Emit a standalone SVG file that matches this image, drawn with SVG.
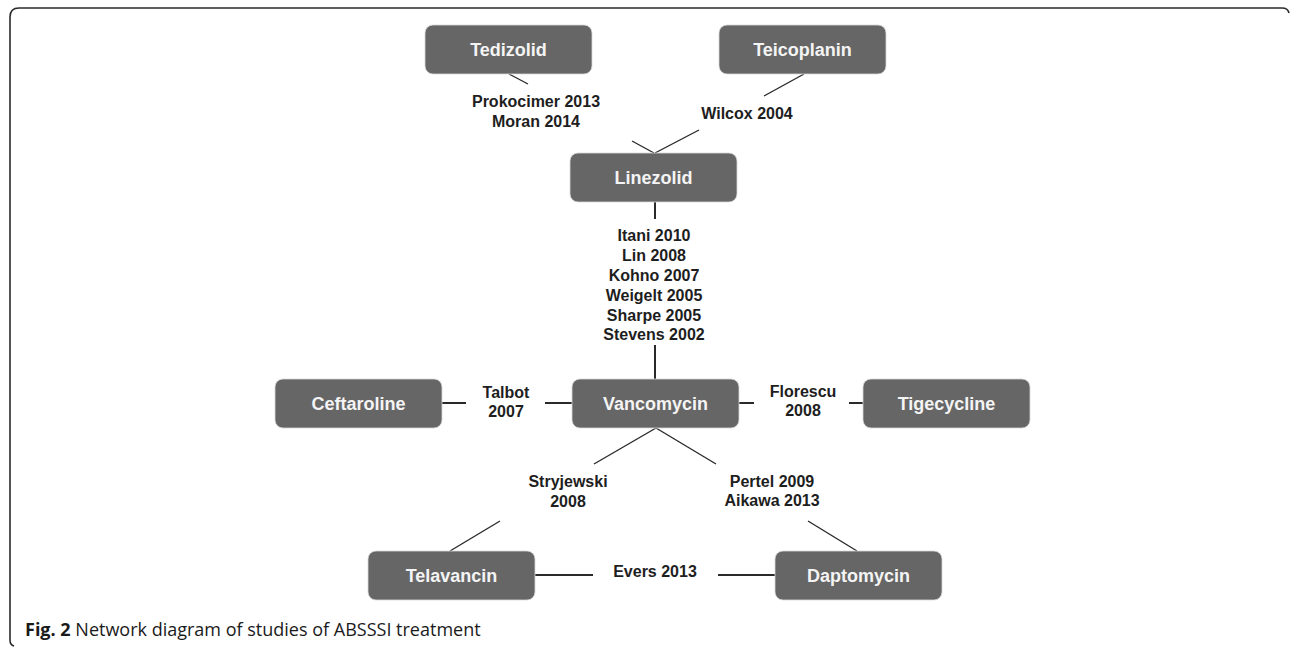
<svg xmlns="http://www.w3.org/2000/svg" width="1292" height="647" viewBox="0 0 1292 647">
<style>
.node rect{fill:#666666;stroke:#d9d9d9;stroke-width:0.8}
.node text{font-family:"Liberation Sans",Arial,sans-serif;font-weight:bold;font-size:18px;fill:#f4f4f4;text-anchor:middle}
.lbl{font-family:"Liberation Sans",Arial,sans-serif;font-weight:bold;font-size:16px;fill:#1e1e1e;text-anchor:middle}
.c line{stroke:#2a2a2a;stroke-width:1.4;fill:none}
.c line.h{stroke-width:2}
.cap{font-family:"Open Sans","Noto Sans",sans-serif;font-size:18px;fill:#1a1a1a}
</style>
<rect width="1292" height="647" fill="#ffffff"/>
<path d="M14 646 Q10 645 10 640 L10 17 Q10 8 19 8 L1282 8 Q1288 8 1289 13" fill="none" stroke="#2b2b2b" stroke-width="1.6"/>
<g id="connectors" class="c">
<line x1="509" y1="74" x2="528" y2="84"/>
<line x1="632" y1="141" x2="654" y2="153"/>
<line x1="804" y1="74" x2="764" y2="96"/>
<line x1="699" y1="130" x2="655" y2="153"/>
<line class="h" x1="655" y1="201" x2="655" y2="219"/>
<line class="h" x1="655" y1="345" x2="655" y2="379"/>
<line class="h" x1="441" y1="403" x2="466" y2="403"/>
<line class="h" x1="545" y1="403" x2="572" y2="403"/>
<line class="h" x1="739" y1="403" x2="754" y2="403"/>
<line class="h" x1="849" y1="403" x2="863" y2="403"/>
<line x1="656" y1="428" x2="594" y2="464"/>
<line x1="500" y1="521" x2="450" y2="551"/>
<line x1="656" y1="428" x2="716" y2="464"/>
<line x1="808" y1="521" x2="857" y2="551"/>
<line class="h" x1="534" y1="575" x2="593" y2="575"/>
<line class="h" x1="718" y1="575" x2="775" y2="575"/>
</g>
<g id="labels">
<text class="lbl" x="536" y="107">Prokocimer 2013</text>
<text class="lbl" x="536" y="127">Moran 2014</text>
<text class="lbl" x="747" y="119">Wilcox 2004</text>
<text class="lbl" x="654" y="241">Itani 2010</text>
<text class="lbl" x="654" y="261">Lin 2008</text>
<text class="lbl" x="654" y="281">Kohno 2007</text>
<text class="lbl" x="654" y="301">Weigelt 2005</text>
<text class="lbl" x="654" y="321">Sharpe 2005</text>
<text class="lbl" x="654" y="340">Stevens 2002</text>
<text class="lbl" x="506" y="398">Talbot</text>
<text class="lbl" x="506" y="417">2007</text>
<text class="lbl" x="803" y="397">Florescu</text>
<text class="lbl" x="803" y="416">2008</text>
<text class="lbl" x="568" y="487">Stryjewski</text>
<text class="lbl" x="568" y="507">2008</text>
<text class="lbl" x="772" y="487">Pertel 2009</text>
<text class="lbl" x="772" y="506">Aikawa 2013</text>
<text class="lbl" x="655" y="577">Evers 2013</text>
</g>
<g id="tedizolid" class="node"><rect x="425" y="25" width="167" height="49" rx="8"/><text x="508.5" y="55.5">Tedizolid</text></g>
<g id="teicoplanin" class="node"><rect x="719" y="25" width="167" height="49" rx="8"/><text x="802.5" y="55.5">Teicoplanin</text></g>
<g id="linezolid" class="node"><rect x="570" y="153" width="167" height="49" rx="8"/><text x="653.5" y="183.5">Linezolid</text></g>
<g id="vancomycin" class="node"><rect x="572" y="379" width="167" height="49" rx="8"/><text x="655.5" y="409.5">Vancomycin</text></g>
<g id="ceftaroline" class="node"><rect x="275" y="379" width="167" height="49" rx="8"/><text x="358.5" y="409.5">Ceftaroline</text></g>
<g id="tigecycline" class="node"><rect x="863" y="379" width="167" height="49" rx="8"/><text x="946.5" y="409.5">Tigecycline</text></g>
<g id="telavancin" class="node"><rect x="368" y="551" width="167" height="49" rx="8"/><text x="451.5" y="581.5">Telavancin</text></g>
<g id="daptomycin" class="node"><rect x="775" y="551" width="167" height="49" rx="8"/><text x="858.5" y="581.5">Daptomycin</text></g>
<text class="cap" x="25" y="636"><tspan font-weight="bold">Fig. 2</tspan> Network diagram of studies of ABSSSI treatment</text>
</svg>
